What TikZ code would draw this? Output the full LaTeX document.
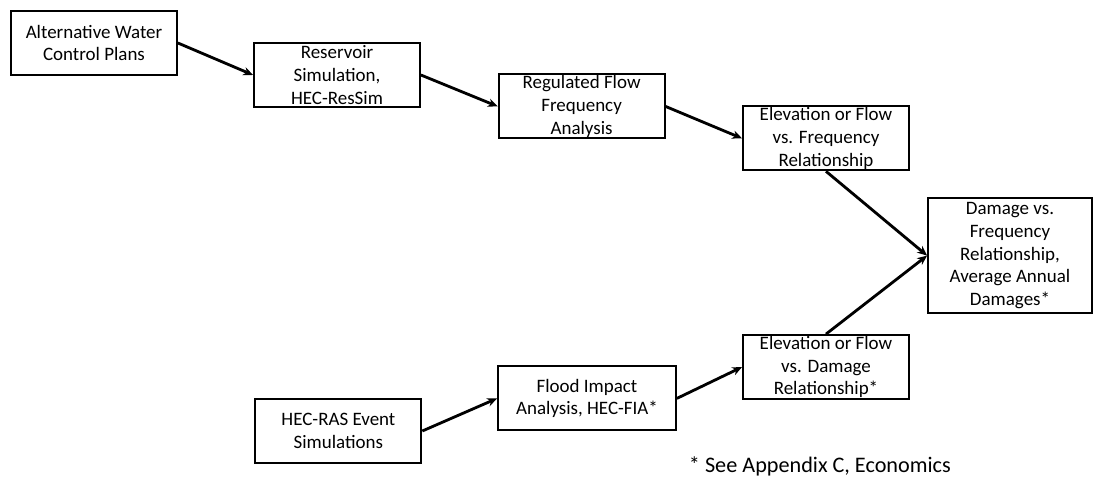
\documentclass[tikz,border=0pt]{standalone}
\usepackage{fontspec}
\setmainfont{Carlito}
\usetikzlibrary{arrows.meta}
\begin{document}
\begin{tikzpicture}[
    stage/.style={draw,line width=1.3pt,align=center,inner sep=0pt,
      minimum width=4.15cm,minimum height=1.6cm,
      font=\fontsize{13.5}{16.3}\selectfont},
    flow/.style={line width=2pt,-{Stealth[length=7pt,width=6pt]}}]
  \useasboundingbox (0,0) rectangle (27.325,-11.95);
  \node[stage] (plans)  at (2.35,-1.075)   {Alternative Water\\Control Plans};
  \node[stage] (ressim) at (8.425,-1.875)  {Reservoir\\Simulation,\\HEC-ResSim};
  \node[stage] (freq)   at (14.54,-2.66)   {Regulated Flow\\Frequency\\Analysis};
  \node[stage] (elvfrq) at (20.65,-3.46)   {Elevation or Flow\\vs. Frequency\\Relationship};
  \node[stage,minimum width=4.1cm,minimum height=2.875cm] (damage) at (25.25,-6.39)
    {Damage vs.\\Frequency\\Relationship,\\Average Annual\\Damages*};
  \node[stage] (elvdmg) at (20.65,-9.175)  {Elevation or Flow\\vs. Damage\\Relationship*};
  \node[stage] (ras)    at (8.46,-10.775)  {HEC-RAS Event\\Simulations};
  \node[stage,minimum width=4.45cm] (fia) at (14.675,-9.96) {Flood Impact\\Analysis, HEC-FIA*};
  \node[anchor=west,font=\fontsize{15.8}{19}\selectfont] (note) at (17.1,-11.65)
    {* See Appendix C, Economics};

  \draw[flow] (plans.east)  -- (ressim.west);
  \draw[flow] (ressim.east) -- (freq.west);
  \draw[flow] (freq.east)   -- (elvfrq.west);
  \draw[flow] (elvfrq.south) -- (damage.west);
  \draw[flow] (ras.east)    -- (fia.west);
  \draw[flow] (fia.east)    -- (elvdmg.west);
  \draw[flow] (elvdmg.north) -- (damage.west);
\end{tikzpicture}
\end{document}
